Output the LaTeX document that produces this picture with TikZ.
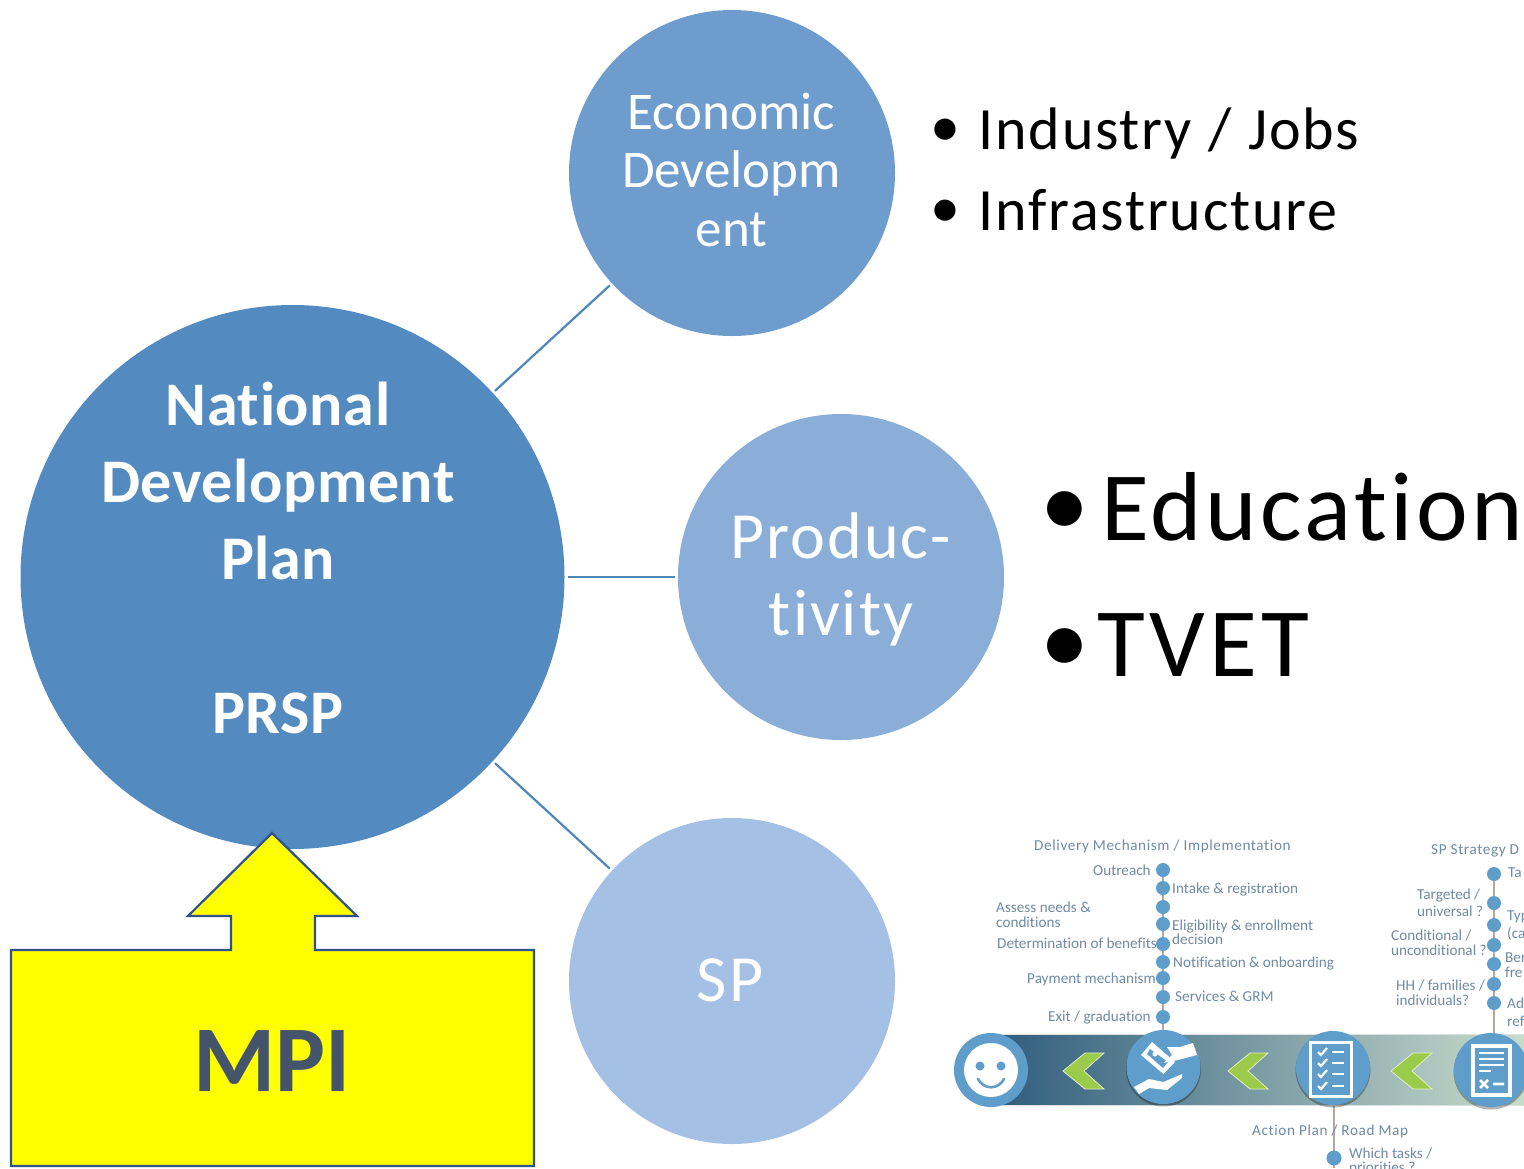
\documentclass[tikz,border=0pt]{standalone}
\usepackage{fontspec}
\setmainfont[Ligatures=CommonOff]{Carlito}
\definecolor{cmain}{HTML}{538BC1}
\definecolor{cecon}{HTML}{6E9DCD}
\definecolor{cprod}{HTML}{8AAED8}
\definecolor{csp}{HTML}{A4C0E4}
\definecolor{clink}{HTML}{4F86BB}
\definecolor{cborder}{HTML}{2F528F}
\definecolor{cmpi}{HTML}{44546A}
\definecolor{cdot}{HTML}{5F9ECB}
\definecolor{ctxt}{HTML}{6F8BA5}
\definecolor{cstem}{HTML}{B9A5A0}
\definecolor{cchev}{HTML}{9BCB4A}
\definecolor{ypure}{HTML}{FFFF00}
\definecolor{barl}{HTML}{2F5C7D}
\definecolor{barr}{HTML}{C8DCCC}
\newcommand{\fsz}[2]{\fontsize{#1}{#2}\selectfont}
\newcommand{\lsp}[1]{\addfontfeature{LetterSpace=#1}}
\newcommand{\bul}[1]{\raisebox{#1}{•}}
\tikzset{
  bubble/.style={circle,draw=none,inner sep=0pt,outer sep=3pt,text=white,align=center},
  link/.style={draw=clink,line width=2.2pt},
  big/.style={anchor=base west,inner sep=0pt,text=black},
  minit/.style={anchor=base west,inner sep=0pt,text=ctxt,font=\fsz{15.2}{15.2}},
  minih/.style={anchor=base west,inner sep=0pt,text=ctxt,font=\fsz{15.2}{15.2}\lsp{4}},
  dotn/.style={circle,fill=cdot,inner sep=0pt,minimum size=14pt},
  stem/.style={draw=cstem,line width=1.2pt},
  iconc/.style={circle,fill=cdot,inner sep=0pt,minimum size=74pt},
  chev/.style={fill=cchev,draw=white!70!cchev,line width=.8pt},
  ico/.style={fill=white,draw=none},
  icol/.style={draw=white,line width=2.6pt}
}
\begin{document}
\begin{tikzpicture}[x=1pt,y=-1pt]
\useasboundingbox (0,0) rectangle (1524,1168);
\clip (0,0) rectangle (1524,1168);
\fill[white] (0,0) rectangle (1524,1168);
% big bubbles
\node[bubble,fill=cmain,minimum size=544pt] (main) at (292.5,577) {};
\node[bubble,fill=cecon,minimum size=326pt] (econ) at (732,173) {};
\node[bubble,fill=cprod,minimum size=326pt] (prod) at (841,577) {};
\node[bubble,fill=csp,minimum size=326pt] (sp) at (732,981) {};
\draw[link] (main) -- (econ);
\draw[link] (main) -- (prod);
\draw[link] (main) -- (sp);
\node[anchor=base,inner sep=0pt,text=white,align=center,font=\fsz{62}{77}\bfseries\lsp{1}] (maint) at (278,733) {National\\Development\\Plan\\ \\PRSP};
\node[anchor=base,inner sep=0pt,text=white,align=center,font=\fsz{53}{58.5}] (econt) at (731.5,246) {Economic\\Developm\\ent};
\node[anchor=base,inner sep=0pt,text=white,align=center,font=\fsz{66}{77}\lsp{3}] (prodt) at (841,635) {Produc-\\tivity};
\node[anchor=base,inner sep=0pt,text=white,font=\fsz{66}{77}\lsp{3}] (spt) at (730,1001) {SP};
% yellow arrow box
\node[draw=none,inner sep=0pt] (mpitip) at (272,833) {};
\draw[fill=ypure,draw=cborder,line width=2.2pt] (mpitip.center) -- (357,916) -- (315,916) -- (315,950) -- (534,950) -- (534,1166) -- (11,1166) -- (11,950) -- (231,950) -- (231,916) -- (188,916) -- cycle;
\node[anchor=base,inner sep=0pt,text=cmpi,font=\fsz{94}{94}\bfseries] (mpi) at (272,1091) {MPI};
% bullets
\node[big,font=\fsz{60}{60}\lsp{3}] (b1) at (930.5,149) {\bul{2.5pt}\hspace{18pt}Industry\hspace{1pt} / \hspace{1.5pt}Jobs};
\node[big,font=\fsz{60}{60}\lsp{3}] (b2) at (930.5,230) {\bul{2.5pt}\hspace{18pt}Infrastructure};
\node[big,font=\fsz{98}{98}\lsp{3.5}] (b3) at (1040,540) {\bul{4pt}\hspace{12pt}Education};
\node[big,font=\fsz{98}{98}\lsp{4.5}] (b4) at (1040,676) {\bul{3pt}\hspace{8pt}TVET};
% mini timeline: stems
\coordinate (s1a) at (1163,866); \coordinate (s1b) at (1163,1034);
\coordinate (s2a) at (1494,870); \coordinate (s2b) at (1494,1034);
\coordinate (s3a) at (1334,1105); \coordinate (s3b) at (1334,1168);
\draw[stem] (s1a) -- (s1b);
\draw[stem] (s2a) -- (s2b);
\draw[stem,line width=1.6pt] (s3a) -- (s3b);
% bar
\shade[left color=barl,right color=barr,draw=none] (992,1034) rectangle (1524,1105);
\draw[white!75!gray,line width=.8pt] (992,1034) -- (1524,1034) (992,1105) -- (1524,1105);
% chevrons
\fill[chev] (1063,1071) -- (1085,1053) -- (1104,1053) -- (1084,1071) -- (1104,1089) -- (1085,1089) -- cycle;
\fill[chev] (1228,1071) -- (1250,1053) -- (1268,1053) -- (1248,1071) -- (1268,1089) -- (1250,1089) -- cycle;
\fill[chev] (1391,1071) -- (1413,1053) -- (1432,1053) -- (1412,1071) -- (1432,1089) -- (1413,1089) -- cycle;
% icons
\fill[black,opacity=.3] (1163.5,1069) circle (37.5);
\fill[black,opacity=.3] (1333,1070) circle (37.5);
\fill[black,opacity=.3] (1491,1072) circle (37.5);
\node[iconc] (i1) at (991,1070) {};
\node[iconc] (i2) at (1163.5,1067) {};
\node[iconc] (i3) at (1333,1068) {};
\node[iconc] (i4) at (1491,1070) {};
% smiley
\fill[white] (i1) circle (27);
\fill[cdot] (980,1066) circle (4.5) (1001,1066) circle (4.5);
\draw[cdot,line width=2.6pt,line cap=round] (978,1079) .. controls (984,1090) and (998,1090) .. (1004,1079);
% money hand
\fill[ico] (1152,1042) -- (1141,1055) -- (1163.5,1074) -- (1175,1062) -- cycle;
\fill[cdot] (1150,1049) -- (1147,1054) -- (1163,1068) -- (1168,1062) -- cycle;
\fill[white] (1155,1054) circle (2.5);
\fill[ico] (1167,1047) -- (1180,1047) -- (1193,1043) -- (1197,1055) -- (1178,1060) -- (1163.5,1063) -- (1172,1055) -- cycle;
\fill[ico] (1134,1087) -- (1149,1079) -- (1163.5,1082) -- (1182,1074) -- (1182,1078) -- (1167,1090) -- (1149,1088) -- (1139,1094) -- cycle;
% checklist
\draw[white,line width=3pt,fill=cdot] (1310.5,1042.5) rectangle (1351,1096);
\foreach \y in {1052,1063,1074,1086}{
  \draw[icol,line width=2.2pt] (1318,\y) -- (1321,\y+3) -- (1327,\y-4);
  \draw[icol] (1332,\y) -- (1344,\y);
}
% document
\draw[white,line width=3.5pt,fill=cdot] (1473,1046) rectangle (1510,1095);
\draw[icol] (1479,1053) -- (1504,1053) (1479,1059) -- (1504,1059) (1479,1065) -- (1504,1065) (1479,1071) -- (1491,1071);
\draw[icol] (1480,1080) -- (1488,1088) (1488,1080) -- (1480,1088) (1493,1084) -- (1504,1084);
% dots
\foreach \n/\y in {a/870,b/888,c/907,d/924,e/944,f/962,g/978,h/997,i/1017}{
  \node[dotn] (l\n) at (1163,\y) {};
}
\foreach \n/\y in {a/874,b/903,c/925,d/945,e/964,f/984,g/1003}{
  \node[dotn] (r\n) at (1494,\y) {};
}
\node[dotn,minimum size=15pt] (bd) at (1334,1158) {};
% mini text
\node[minih] (t1) at (1034,850) {Delivery Mechanism / Implementation};
\node[minit] (t2) at (1093,875) {Outreach};
\node[minit] (t3) at (1172,893) {Intake \& registration};
\node[minit] (t4) at (996,912) {Assess needs \&};
\node[minit] (t5) at (996,927) {conditions};
\node[minit] (t6) at (1172,930) {Eligibility \& enrollment};
\node[minit] (t7) at (1172,944) {decision};
\node[minit] (t8) at (997,948) {Determination of benefits};
\node[minit] (t9) at (1173,967) {Notification \& onboarding};
\node[minit] (t10) at (1027,983) {Payment mechanism};
\node[minit] (t11) at (1175,1001) {Services \& GRM};
\node[minit] (t12) at (1048,1021) {Exit / graduation};
\node[minih] (t13) at (1431,854) {SP Strategy D};
\node[minit] (t14) at (1508,877) {Ta};
\node[minit] (t15) at (1417,899) {Targeted /};
\node[minit] (t16) at (1417,916) {universal ?};
\node[minit] (t17) at (1507,920) {Typ};
\node[minit] (t18) at (1507,938) {(ca};
\node[minit] (t19) at (1391,940) {Conditional /};
\node[minit] (t20) at (1391,955) {unconditional ?};
\node[minit] (t21) at (1505,962) {Ber};
\node[minit] (t22) at (1505,977) {fre};
\node[minit] (t23) at (1396,990) {HH / families /};
\node[minit] (t24) at (1396,1005) {individuals?};
\node[minit] (t25) at (1507,1008) {Ad};
\node[minit] (t26) at (1507,1026) {ref};
\node[minih] (t27) at (1252,1135) {Action Plan / Road Map};
\node[minit] (t28) at (1349,1158) {Which tasks /};
\node[minit] (t29) at (1349,1172) {priorities ?};
\end{tikzpicture}
\end{document}
